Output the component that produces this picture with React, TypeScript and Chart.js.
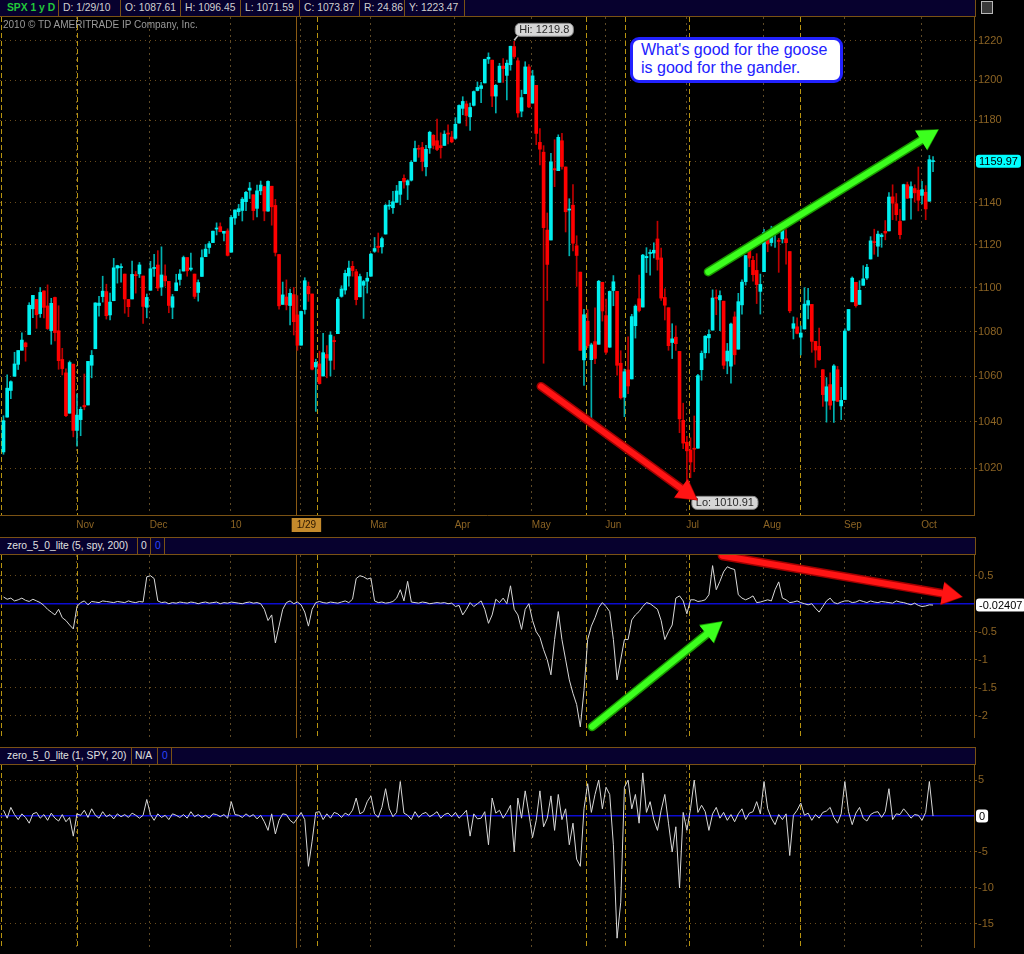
import React, { useEffect, useRef } from 'react';
import { Chart, registerables } from 'chart.js';

Chart.register(...registerables);

// ---------- SPX daily candles [open, high, low, close], Oct 5 2009 .. Oct 6 2010 ----------
const OCT_09 = [
  [1026.9, 1042.6, 1025.9, 1040.46], [1042.0, 1060.6, 1042.0, 1054.72], [1053.7, 1058.0, 1050.1, 1057.58],
  [1060.0, 1070.7, 1060.0, 1065.48], [1065.3, 1071.5, 1063.0, 1071.49], [1071.6, 1079.5, 1071.6, 1076.19],
  [1074.9, 1075.3, 1066.7, 1073.19], [1078.7, 1093.2, 1078.7, 1092.02], [1090.4, 1096.6, 1086.4, 1096.56],
  [1094.7, 1094.7, 1081.5, 1087.68], [1088.2, 1100.2, 1086.5, 1097.91], [1098.6, 1098.6, 1086.2, 1091.06],
  [1091.7, 1101.4, 1081.0, 1081.40], [1080.5, 1095.2, 1074.3, 1092.91], [1095.6, 1095.8, 1075.8, 1079.60],
  [1080.4, 1091.8, 1063.1, 1066.95], [1067.5, 1072.5, 1060.6, 1063.41], [1061.5, 1063.3, 1042.2, 1042.63],
  [1043.7, 1066.8, 1043.7, 1066.11], [1065.4, 1065.4, 1033.4, 1036.19],
];
const NOV_09 = [
  [1036.2, 1052.2, 1029.4, 1042.88], [1040.9, 1046.4, 1033.9, 1045.41], [1047.1, 1061.0, 1045.2, 1046.50],
  [1047.3, 1066.7, 1047.3, 1066.63], [1064.9, 1071.5, 1059.3, 1069.30], [1072.3, 1093.2, 1072.3, 1093.08],
  [1091.9, 1096.1, 1087.0, 1093.01], [1096.0, 1105.4, 1093.5, 1098.51], [1098.3, 1101.7, 1085.7, 1087.24],
  [1087.6, 1097.6, 1085.3, 1093.48], [1094.1, 1113.7, 1094.1, 1109.30], [1109.2, 1110.5, 1102.2, 1110.32],
  [1109.4, 1111.1, 1102.7, 1109.80], [1106.4, 1106.4, 1088.4, 1094.90], [1094.7, 1094.7, 1086.8, 1091.38],
  [1094.9, 1112.4, 1094.9, 1106.24], [1105.8, 1107.6, 1097.6, 1105.65], [1106.5, 1111.8, 1104.8, 1110.63],
  [1105.5, 1105.5, 1083.7, 1091.49], [1091.1, 1097.2, 1086.3, 1095.63],
];
const DEC_09 = [
  [1098.9, 1112.3, 1098.9, 1108.86], [1109.0, 1115.6, 1105.3, 1109.24], [1110.6, 1117.3, 1098.7, 1099.92],
  [1100.4, 1119.1, 1096.5, 1105.98], [1105.5, 1110.7, 1100.8, 1103.25], [1103.0, 1103.0, 1088.6, 1091.94],
  [1091.1, 1097.0, 1085.9, 1095.95], [1098.7, 1106.3, 1098.7, 1102.35], [1103.9, 1108.5, 1101.3, 1106.41],
  [1107.8, 1114.8, 1107.8, 1114.11], [1114.1, 1114.1, 1105.4, 1107.93], [1108.6, 1116.2, 1107.9, 1109.18],
  [1106.4, 1106.4, 1095.1, 1096.08], [1097.9, 1103.7, 1093.9, 1102.47], [1105.3, 1117.7, 1105.3, 1114.05],
  [1114.5, 1120.3, 1114.5, 1118.02], [1118.8, 1121.6, 1116.0, 1120.59], [1121.1, 1126.5, 1121.1, 1126.48],
  [1127.5, 1130.4, 1124.7, 1127.78], [1128.6, 1130.4, 1126.2, 1126.20], [1125.5, 1126.4, 1121.9, 1126.42],
  [1126.6, 1127.6, 1114.8, 1115.10],
];
const JAN_10 = [
  [1116.6, 1133.9, 1116.6, 1132.99], [1132.7, 1136.6, 1129.7, 1136.52], [1135.7, 1139.2, 1133.9, 1137.14],
  [1136.3, 1142.5, 1131.3, 1141.69], [1140.5, 1145.4, 1136.2, 1144.98], [1146.0, 1149.7, 1142.0, 1146.98],
  [1143.8, 1143.8, 1131.8, 1136.22], [1137.3, 1148.4, 1133.2, 1145.68], [1145.7, 1150.4, 1143.8, 1148.46],
  [1147.7, 1147.8, 1131.4, 1136.03], [1136.0, 1150.5, 1135.8, 1150.23], [1147.9, 1147.9, 1129.3, 1138.04],
  [1138.7, 1141.6, 1114.8, 1116.48], [1115.5, 1115.5, 1090.2, 1091.76], [1092.4, 1102.7, 1092.4, 1096.78],
  [1095.8, 1103.7, 1089.9, 1092.17], [1091.9, 1099.5, 1083.1, 1097.50], [1096.9, 1100.2, 1078.5, 1084.53],
  [1087.61, 1096.45, 1071.59, 1073.87],
];
const FEB_10 = [
  [1073.9, 1089.4, 1073.9, 1089.19], [1090.1, 1104.7, 1088.0, 1103.32], [1100.7, 1102.7, 1093.8, 1097.28],
  [1097.2, 1097.2, 1062.8, 1063.11], [1064.1, 1067.6, 1044.5, 1066.19], [1065.5, 1071.2, 1056.5, 1056.74],
  [1060.1, 1079.3, 1060.1, 1070.52], [1069.7, 1073.7, 1059.3, 1068.13], [1067.1, 1080.0, 1060.1, 1078.47],
  [1076.0, 1077.8, 1063.0, 1075.51], [1079.1, 1095.7, 1079.1, 1094.87], [1096.1, 1101.0, 1095.7, 1099.51],
  [1099.0, 1108.2, 1097.1, 1106.75], [1105.5, 1112.4, 1100.8, 1109.17], [1110.0, 1112.3, 1105.4, 1108.01],
  [1107.5, 1108.6, 1092.2, 1094.60], [1095.9, 1106.4, 1095.9, 1105.24], [1101.2, 1103.5, 1086.0, 1102.94],
  [1103.1, 1107.2, 1097.6, 1104.49],
];
const MAR_10 = [
  [1105.4, 1116.1, 1105.4, 1115.71], [1117.0, 1123.5, 1116.5, 1118.31], [1119.4, 1125.6, 1116.6, 1118.79],
  [1119.1, 1123.7, 1116.1, 1122.97], [1125.1, 1139.4, 1125.1, 1138.70], [1138.4, 1141.1, 1136.8, 1138.50],
  [1137.6, 1145.4, 1134.9, 1140.45], [1140.2, 1148.3, 1140.1, 1145.61], [1144.0, 1150.2, 1139.0, 1150.24],
  [1151.7, 1153.4, 1147.0, 1149.99], [1148.5, 1151.0, 1141.5, 1150.51], [1150.8, 1160.3, 1150.4, 1159.46],
  [1159.9, 1169.8, 1159.9, 1166.21], [1166.1, 1167.8, 1161.9, 1165.83], [1166.7, 1169.2, 1155.3, 1159.90],
  [1157.3, 1167.8, 1152.9, 1165.81], [1166.5, 1174.7, 1163.8, 1174.17], [1172.7, 1173.0, 1166.0, 1167.72],
  [1170.0, 1180.7, 1165.1, 1165.73], [1167.6, 1173.9, 1161.5, 1166.59], [1167.7, 1174.9, 1167.7, 1173.22],
  [1173.8, 1177.8, 1168.5, 1173.27], [1171.8, 1174.6, 1169.0, 1169.43],
];
const APR_10 = [
  [1171.2, 1181.4, 1170.7, 1178.10], [1178.7, 1187.7, 1178.7, 1187.44], [1186.0, 1191.8, 1182.8, 1189.44],
  [1188.2, 1189.6, 1177.3, 1182.45], [1181.8, 1188.6, 1175.1, 1186.44], [1187.5, 1194.7, 1187.2, 1194.37],
  [1194.9, 1199.2, 1194.7, 1196.48], [1195.9, 1199.0, 1188.8, 1197.30], [1198.7, 1210.7, 1198.7, 1210.65],
  [1210.8, 1213.9, 1208.5, 1211.67], [1210.2, 1210.2, 1186.8, 1192.13], [1192.1, 1197.9, 1183.7, 1197.52],
  [1199.0, 1208.6, 1199.0, 1207.17], [1207.2, 1211.0, 1198.9, 1205.94], [1202.5, 1210.3, 1190.2, 1208.67],
  [1207.9, 1217.3, 1205.1, 1217.28], [1217.1, 1219.8, 1211.1, 1212.05], [1209.9, 1211.4, 1181.6, 1183.71],
  [1184.6, 1195.1, 1181.8, 1191.36], [1193.3, 1209.4, 1193.3, 1206.78], [1206.8, 1208.0, 1186.3, 1186.69],
];
const MAY_10 = [
  [1188.6, 1205.1, 1188.6, 1202.26], [1197.5, 1197.5, 1168.1, 1173.60], [1169.2, 1176.0, 1158.2, 1165.87],
  [1164.4, 1167.6, 1065.8, 1128.15], [1127.0, 1135.1, 1094.2, 1110.88], [1122.3, 1163.9, 1122.3, 1159.73],
  [1156.4, 1170.5, 1147.7, 1155.79], [1155.4, 1172.9, 1155.4, 1171.67], [1170.0, 1173.6, 1156.1, 1157.44],
  [1157.2, 1157.2, 1126.1, 1135.68], [1136.5, 1141.9, 1114.9, 1136.94], [1138.8, 1148.7, 1117.2, 1120.80],
  [1119.6, 1124.3, 1100.7, 1115.05], [1107.3, 1107.3, 1071.6, 1071.59], [1067.3, 1090.2, 1055.9, 1087.69],
  [1084.8, 1090.0, 1072.7, 1073.65], [1067.4, 1074.8, 1040.8, 1074.03], [1075.5, 1090.8, 1065.6, 1067.95],
  [1074.3, 1103.5, 1074.3, 1103.06], [1102.6, 1102.6, 1084.8, 1089.41],
];
const JUN_10 = [
  [1087.3, 1094.8, 1069.9, 1070.71], [1073.0, 1098.6, 1072.9, 1098.38], [1098.8, 1105.7, 1091.8, 1102.83],
  [1098.4, 1098.4, 1060.5, 1064.88], [1065.8, 1071.4, 1049.9, 1050.47], [1050.8, 1063.2, 1042.2, 1062.00],
  [1062.8, 1077.7, 1052.3, 1055.69], [1058.8, 1087.9, 1058.8, 1086.84], [1082.7, 1092.2, 1077.1, 1091.60],
  [1095.0, 1105.9, 1089.0, 1089.63], [1091.2, 1115.6, 1091.2, 1115.23], [1114.0, 1118.7, 1107.1, 1114.61],
  [1116.0, 1117.7, 1105.9, 1116.04], [1116.2, 1121.0, 1113.9, 1117.51], [1122.8, 1131.2, 1108.2, 1113.20],
  [1113.9, 1118.5, 1094.2, 1095.31], [1095.6, 1099.6, 1085.3, 1092.04], [1090.9, 1090.9, 1071.6, 1073.69],
  [1075.1, 1083.6, 1067.9, 1076.76], [1077.5, 1082.6, 1071.5, 1074.57], [1071.1, 1071.1, 1035.2, 1041.24],
  [1040.6, 1048.1, 1028.3, 1030.71],
];
const JUL_10 = [
  [1031.1, 1033.6, 1010.91, 1027.37], [1027.7, 1033.0, 1015.9, 1022.58], [1028.1, 1042.5, 1018.4, 1028.06],
  [1028.5, 1060.9, 1028.5, 1060.27], [1062.9, 1071.3, 1058.2, 1070.25], [1070.5, 1078.2, 1068.1, 1077.96],
  [1077.2, 1080.8, 1070.4, 1078.75], [1080.7, 1099.1, 1080.7, 1095.34], [1095.6, 1099.1, 1087.7, 1095.17],
  [1094.5, 1098.7, 1080.5, 1096.48], [1093.9, 1093.9, 1063.3, 1064.88], [1066.8, 1074.7, 1061.1, 1071.25],
  [1064.5, 1083.9, 1056.9, 1083.48], [1086.7, 1089.0, 1065.3, 1069.59], [1072.1, 1097.5, 1072.1, 1093.67],
  [1092.2, 1103.7, 1087.9, 1102.66], [1102.9, 1115.0, 1101.3, 1115.01], [1117.4, 1121.0, 1109.8, 1113.84],
  [1112.8, 1114.7, 1103.1, 1106.13], [1108.1, 1115.9, 1092.8, 1101.53], [1098.4, 1106.4, 1088.0, 1101.60],
];
const AUG_10 = [
  [1107.5, 1127.3, 1107.5, 1125.86], [1125.3, 1125.4, 1116.8, 1120.46], [1121.1, 1128.8, 1119.5, 1127.24],
  [1125.8, 1126.6, 1118.8, 1125.81], [1122.1, 1123.1, 1107.2, 1121.64], [1122.8, 1129.2, 1120.9, 1127.79],
  [1122.9, 1127.2, 1111.0, 1121.06], [1116.9, 1116.9, 1088.6, 1089.47], [1081.5, 1086.7, 1076.7, 1083.61],
  [1082.2, 1086.3, 1079.0, 1079.25], [1077.5, 1082.6, 1069.5, 1079.38], [1081.2, 1100.1, 1081.2, 1092.54],
  [1092.1, 1099.8, 1085.8, 1094.16], [1092.4, 1092.4, 1070.7, 1075.63], [1075.6, 1075.6, 1063.9, 1071.69],
  [1073.4, 1081.6, 1067.1, 1067.36], [1062.9, 1063.0, 1046.7, 1051.87], [1049.0, 1059.4, 1039.8, 1055.33],
  [1056.3, 1061.5, 1045.4, 1047.22], [1049.3, 1065.2, 1039.7, 1064.59], [1062.9, 1064.4, 1048.8, 1048.92],
  [1046.9, 1055.1, 1040.9, 1049.33],
];
const SEP_10 = [
  [1049.7, 1081.3, 1049.7, 1080.29], [1080.7, 1090.1, 1080.4, 1090.10], [1093.6, 1105.1, 1093.6, 1104.51],
  [1102.6, 1102.6, 1091.2, 1091.84], [1092.4, 1103.3, 1092.4, 1098.87], [1101.2, 1110.3, 1101.2, 1104.18],
  [1104.6, 1110.9, 1103.9, 1109.55], [1113.4, 1123.9, 1113.4, 1121.90], [1121.2, 1127.4, 1115.6, 1121.10],
  [1119.4, 1126.5, 1114.6, 1125.07], [1123.9, 1125.4, 1118.9, 1124.66], [1126.4, 1131.5, 1122.4, 1125.59],
  [1126.6, 1144.9, 1126.6, 1142.71], [1142.8, 1148.6, 1131.9, 1139.78], [1139.5, 1144.4, 1131.6, 1134.28],
  [1131.1, 1136.8, 1122.8, 1124.83], [1131.7, 1148.9, 1131.7, 1148.67], [1148.6, 1149.9, 1142.0, 1142.16],
  [1142.3, 1150.0, 1132.1, 1147.70], [1146.8, 1148.6, 1140.3, 1144.73], [1146.0, 1157.2, 1136.1, 1141.20],
];
const OCT_10 = [
  [1143.5, 1150.3, 1139.4, 1146.24], [1145.0, 1148.2, 1131.9, 1137.03], [1140.7, 1162.8, 1140.7, 1160.75],
  [1159.8, 1162.3, 1154.9, 1159.97],
];
const SPX = [
  ...OCT_09, ...NOV_09, ...DEC_09, ...JAN_10, ...FEB_10, ...MAR_10, ...APR_10,
  ...MAY_10, ...JUN_10, ...JUL_10, ...AUG_10, ...SEP_10, ...OCT_10,
];

// ---------- zero_5_0_lite (5, spy, 200) ----------
const IND1 = [
  0.12, 0.08, 0.1, 0.05, 0.07, 0.1, 0.06, 0.04, 0.08, 0.05,
  0.02, -0.03, -0.1, -0.15, -0.2, -0.1, -0.25, -0.3, -0.38, -0.45,
  -0.05, 0.02, 0.05, -0.02, 0.04, 0.03, 0.02, 0.05, 0.04, 0.03,
  0.02, 0.04, 0.03, 0.02, 0.05, 0.03, 0.02, 0.04, 0.03, 0.48,
  0.5, 0.45, 0.05, 0.02, 0.03, 0.0, 0.02, 0.01, 0.03, 0.02,
  0.01, 0.03, 0.02, 0.0, 0.02, 0.03, 0.01, 0.02, 0.03, 0.0,
  0.02, 0.01, 0.03, 0.02, 0.01, 0.0, 0.02, 0.03, 0.01, 0.02,
  0.0, -0.1, -0.3, -0.2, -0.7, -0.4, -0.1, 0.02, 0.05, 0.0,
  0.03, -0.02, -0.15, -0.4, -0.1, 0.02, 0.04, 0.02, 0.01, 0.03,
  0.02, 0.01, 0.03, 0.05, 0.02, 0.08, 0.45, 0.5, 0.48, 0.44,
  0.46, 0.05, 0.02, 0.03, 0.01, 0.02, 0.04, 0.1, 0.25, 0.05,
  0.4, 0.03, 0.02, 0.01, 0.03, 0.02, 0.0, 0.01, 0.02, 0.01,
  0.02, 0.0, 0.01, -0.05, -0.03, -0.2, -0.1, 0.02, -0.05, 0.0,
  0.05, -0.1, -0.35, -0.2, 0.08, 0.02, 0.1, 0.0, 0.32, -0.1,
  -0.2, -0.46, -0.1, 0.0, -0.3, -0.5, -0.6, -0.82, -1.0, -1.27,
  -0.64, -0.14, -0.64, -1.0, -1.36, -1.6, -1.8, -2.2, -1.55, -0.64,
  -0.4, -0.25, -0.07, 0.02, -0.05, -0.14, -0.64, -1.36, -1.0, -0.64,
  -0.64, -0.29, -0.2, -0.14, -0.05, 0.02, 0.0, -0.05, -0.1, -0.3,
  -0.64, -0.5, -0.38, 0.1, 0.14, 0.05, -0.18, 0.07, 0.07, 0.04,
  0.05, 0.07, 0.16, 0.68, 0.25, 0.4, 0.57, 0.66, 0.63, 0.61,
  0.16, 0.1, 0.07, 0.1, 0.14, 0.02, 0.03, 0.05, 0.07, 0.05,
  0.25, 0.39, 0.1, 0.07, 0.02, 0.03, 0.05, 0.02, 0.0, -0.02,
  0.0, -0.08, -0.15, -0.05, 0.05, 0.1, 0.02, 0.0, 0.03, 0.05,
  0.05, 0.02, 0.03, 0.06, 0.04, 0.02, 0.05, 0.03, 0.02, 0.04,
  0.03, 0.02, 0.01, 0.05, 0.03, 0.02, 0.0, -0.02, 0.01, -0.03,
  -0.05, -0.04, -0.02, -0.02407,
];

// ---------- zero_5_0_lite (1, SPY, 20) ----------
const IND2 = [
  0.8, -0.3, 1.2, 0.2, -0.5, 0.3, -0.2, -1.0, 0.3, 0.5,
  -0.3, 0.2, -0.6, 0.4, -0.3, -0.7, 0.2, -0.8, -0.2, -2.8,
  0.3, 0.1, 0.8, -0.2, 1.0, 0.1, -0.3, 0.6, -0.1, 0.2,
  -0.4, 0.3, -0.1, 0.2, -0.2, 0.4, 0.1, -0.3, 0.1, 2.3,
  0.2, -0.6, 0.3, -0.2, 0.1, -0.5, 0.3, 0.1, -0.2, 0.2,
  -0.3, 0.6, -0.1, 0.2, -0.2, 0.1, -0.3, 0.3, 0.2, -0.1,
  0.2, -0.3, 2.0, 0.2, 0.1, -0.2, 0.3, -0.1, 0.2, -0.4,
  0.1, -0.8, -2.0, 0.3, -2.5, -0.6, 0.3, 0.2, -0.6, -1.0,
  -0.3, 0.5, -0.5, -7.0, -3.5, 0.5, 0.6, -0.5, 0.3, -0.3,
  0.5, 0.3, -0.2, 0.4, 0.1, 0.8, 2.5, 0.3, 0.6, 2.0,
  2.8, 0.3, -0.2, 1.2, 3.8, 1.0, -0.1, 0.5, 4.8, 0.4,
  0.1, -0.5, 0.6, -0.2, 0.3, 0.5, -0.1, 0.2, 0.6, -0.3,
  0.2, 0.4, -0.1, 0.5, -0.3, 0.2, 0.8, -2.8, 0.3, -0.4,
  -0.3, 0.6, -4.0, 2.5, 0.4, 0.8, -0.3, 0.5, 1.5, -5.0,
  2.5, -0.3, 3.5, 0.3, -3.0, -0.6, 3.5, -1.5, -0.3, 2.8,
  -2.0, 3.0, -0.5, 1.0, -4.0, -1.0, -6.0, -7.0, 1.0, 4.5,
  0.5, 3.0, 5.0, 1.0, 4.0, 3.0, -4.0, -17.0, -12.0, 4.0,
  5.0, 1.0, 3.0, -1.0, 6.0, 0.5, 2.0, -0.5, -2.0, 0.8,
  3.0, -1.0, -5.0, -1.5, -10.0, 0.5, -2.0, 1.0, 5.0, 0.5,
  1.5, 0.6, -2.0, 0.3, 1.2, -0.3, 0.5, -0.6, 0.2, -0.8,
  0.3, 1.0, -0.5, 0.4, 0.6, 2.0, 0.3, 4.8, 1.0, -0.3,
  -1.2, 0.2, -0.5, 0.3, -5.5, 0.1, 0.8, 1.8, 0.1, 0.4,
  -0.6, 0.2, -0.3, 0.5, 0.7, 1.2, -0.2, -1.0, 0.3, 4.8,
  0.6, -1.2, 0.4, 1.2, -0.3, -0.7, 0.2, 0.5, 0.6, -0.2,
  0.6, 3.8, -0.5, 0.3, 0.2, 1.0, 0.4, -0.3, 0.2, 0.1,
  -0.6, 0.5, 4.8, 0.0,
];

// ---------- axes / ticks ----------
const MAIN_TICKS = [1020, 1040, 1060, 1080, 1100, 1120, 1140, 1160, 1180, 1200, 1220];
const IND1_TICKS = [0.5, 0, -0.5, -1, -1.5, -2];
const IND2_TICKS = [5, 0, -5, -10, -15];
const MONTH_POS = [19.8, 39.8, 61.8, 80.8, 99.8, 122.8, 143.8, 163.8, 185.8, 206.8, 228.8, 249.8];
const MONTH_LABELS = ['Nov', 'Dec', '10', '', 'Mar', 'Apr', 'May', 'Jun', 'Jul', 'Aug', 'Sep', 'Oct'];
const EVENT_POS = [-0.5, 20.1, 85.5, 158.8, 169.2, 186.6, 217.0];
const CURSOR_POS = 79.8;
const CURSOR_LABEL = '1/29';

// annotation arrows, in data units [index, value]
const MAIN_ARROWS = [
  { from: [146.3, 1055.5], to: [188.8, 1006.4], color: '#ff1414', edge: '#a00000' },
  { from: [191.8, 1107.4], to: [254.4, 1175.4], color: '#3cff1e', edge: '#1a9a00' },
];
const IND1_ARROWS = [
  { from: [195.6, 0.857], to: [260.9, 0.125], color: '#ff1414', edge: '#a00000' },
  { from: [160.2, -2.196], to: [195.6, -0.32], color: '#3cff1e', edge: '#1a9a00' },
];

// ---------- styling ----------
const FONT = "'Liberation Sans', Arial, sans-serif";
const NAVY = '#07012e';
const BROWN = '#7a5214';
const AXIS_TEXT = '#8c6424';
const GRID_H = '#6a4c1c';
const MONTH_COLOR = '#5e4a26';
const EVENT_COLOR = '#b89410';
const CURSOR_COLOR = '#8a5a14';
const UP = '#00f0f0';
const UP_WICK = '#00b0b0';
const DOWN = '#ff0000';
const DOWN_WICK = '#c00000';
const IND_LINE = '#d8d8d8';
const ZERO_BLUE = '#0c0cd0';

const X_MIN = -0.95;
const X_MAX = 264.15;

type VLine = { v: number; label: string; color: string; dash: number[] };
const VLINES: VLine[] = [
  ...MONTH_POS.map((v, i) => ({ v, label: MONTH_LABELS[i], color: MONTH_COLOR, dash: [2, 4] })),
  ...EVENT_POS.map((v) => ({ v, label: '', color: EVENT_COLOR, dash: [5, 3] })),
  { v: CURSOR_POS, label: CURSOR_LABEL, color: CURSOR_COLOR, dash: [] as number[] },
].sort((a, b) => a.v - b.v);

Chart.defaults.font.family = FONT;
Chart.defaults.font.size = 11;

function xScale(showLabels: boolean, h: number) {
  return {
    type: 'linear',
    position: 'bottom',
    min: X_MIN,
    max: X_MAX,
    offset: false,
    afterBuildTicks: (s: any) => {
      s.ticks = VLINES.map((l) => ({ value: l.v }));
    },
    afterFit: (s: any) => {
      s.height = h;
      s.paddingLeft = 0;
      s.paddingRight = 0;
    },
    grid: {
      offset: false,
      drawTicks: false,
      lineWidth: 1,
      color: (c: any) => (c.index !== undefined && VLINES[c.index] ? VLINES[c.index].color : 'transparent'),
    },
    border: {
      display: true,
      color: BROWN,
      width: 1,
      dash: (c: any) => (c.index !== undefined && VLINES[c.index] ? VLINES[c.index].dash : []),
    },
    ticks: {
      display: showLabels,
      autoSkip: false,
      maxRotation: 0,
      minRotation: 0,
      align: 'start',
      padding: 4,
      font: { size: 10 },
      color: (c: any) => (VLINES[c.index] && VLINES[c.index].label === CURSOR_LABEL ? '#2a1600' : AXIS_TEXT),
      showLabelBackdrop: (c: any) => !!(VLINES[c.index] && VLINES[c.index].label === CURSOR_LABEL),
      backdropColor: '#c48a2c',
      backdropPadding: { top: 1, bottom: 1, left: 5, right: 5 },
      callback: (_v: any, i: number) => (VLINES[i] ? VLINES[i].label : ''),
    },
  };
}

function yIndScale(min: number, max: number, ticks: number[]) {
  const isZero = (c: any) => c.tick && c.tick.value === 0;
  return {
    type: 'linear',
    position: 'right',
    min,
    max,
    afterBuildTicks: (s: any) => {
      s.ticks = ticks.map((v) => ({ value: v }));
    },
    afterFit: (s: any) => {
      s.width = 50;
      s.paddingTop = 0;
      s.paddingBottom = 0;
    },
    grid: {
      color: (c: any) => (isZero(c) ? ZERO_BLUE : GRID_H),
      lineWidth: (c: any) => (isZero(c) ? 1.6 : 1),
      drawTicks: true,
      tickLength: 3,
      tickColor: (c: any) => (isZero(c) ? 'transparent' : BROWN),
    },
    border: { color: BROWN, width: 1, dash: (c: any) => (isZero(c) || !c.tick ? [] : [1, 4]) },
    ticks: {
      color: AXIS_TEXT,
      padding: 1,
      font: { size: 11 },
      callback: (v: any) => (v === 0 ? '' : String(v)),
    },
  };
}

function roundRect(ctx: CanvasRenderingContext2D, x: number, y: number, w: number, h: number, r: number) {
  ctx.beginPath();
  ctx.moveTo(x + r, y);
  ctx.arcTo(x + w, y, x + w, y + h, r);
  ctx.arcTo(x + w, y + h, x, y + h, r);
  ctx.arcTo(x, y + h, x, y, r);
  ctx.arcTo(x, y, x + w, y, r);
  ctx.closePath();
}

function drawArrow(chart: any, a: any) {
  const ctx: CanvasRenderingContext2D = chart.ctx;
  const xs = chart.scales.x;
  const ys = chart.scales.y;
  const x1 = xs.getPixelForValue(a.from[0]);
  const y1 = ys.getPixelForValue(a.from[1]);
  const x2 = xs.getPixelForValue(a.to[0]);
  const y2 = ys.getPixelForValue(a.to[1]);
  const ang = Math.atan2(y2 - y1, x2 - x1);
  const head = 20;
  const half = 11;
  const bx = x2 - head * Math.cos(ang);
  const by = y2 - head * Math.sin(ang);
  const nx = Math.cos(ang + Math.PI / 2);
  const ny = Math.sin(ang + Math.PI / 2);
  ctx.save();
  ctx.lineCap = 'round';
  ctx.lineJoin = 'round';
  [[a.edge, 9], [a.color, 6]].forEach(([col, w]: any) => {
    ctx.strokeStyle = col;
    ctx.fillStyle = col;
    ctx.lineWidth = w;
    ctx.beginPath();
    ctx.moveTo(x1, y1);
    ctx.lineTo(bx + 2 * Math.cos(ang), by + 2 * Math.sin(ang));
    ctx.stroke();
    const k = w === 9 ? 1 : 0;
    ctx.beginPath();
    ctx.moveTo(x2 + k * Math.cos(ang), y2 + k * Math.sin(ang));
    ctx.lineTo(bx + (half + k) * nx, by + (half + k) * ny);
    ctx.lineTo(bx - (half + k) * nx, by - (half + k) * ny);
    ctx.closePath();
    ctx.fill();
  });
  ctx.restore();
}

function drawTag(chart: any, value: number, text: string, bg: string, fg: string) {
  const ctx: CanvasRenderingContext2D = chart.ctx;
  const y = chart.scales.y.getPixelForValue(value);
  const x = chart.chartArea.right + 2;
  ctx.save();
  ctx.font = `11px ${FONT}`;
  const w = ctx.measureText(text).width + 6;
  const h = 13;
  roundRect(ctx, x, y - h / 2, w, h, 3);
  ctx.fillStyle = bg;
  ctx.fill();
  ctx.fillStyle = fg;
  ctx.textBaseline = 'middle';
  ctx.fillText(text, x + 3, y + 0.5);
  ctx.restore();
}

function drawBubble(ctx: CanvasRenderingContext2D, text: string, bx: number, by: number, tx: number, ty: number, ax: number, ay: number) {
  ctx.save();
  ctx.font = `11px ${FONT}`;
  const w = ctx.measureText(text).width + 8;
  const h = 13;
  ctx.strokeStyle = '#c8c8c8';
  ctx.lineWidth = 1.5;
  ctx.beginPath();
  ctx.moveTo(tx, ty);
  ctx.lineTo(ax, ay);
  ctx.stroke();
  roundRect(ctx, bx, by, w, h, 5);
  ctx.fillStyle = '#d6d6d6';
  ctx.fill();
  ctx.strokeStyle = '#8a8a8a';
  ctx.lineWidth = 1;
  ctx.stroke();
  ctx.fillStyle = '#2a2a2a';
  ctx.textBaseline = 'middle';
  ctx.fillText(text, bx + 4, by + h / 2 + 0.5);
  ctx.restore();
}

const mainOverlay = {
  id: 'mainOverlay',
  afterDraw(chart: any) {
    const ctx: CanvasRenderingContext2D = chart.ctx;
    const xs = chart.scales.x;
    const ys = chart.scales.y;
    let hi = 0;
    let lo = 0;
    SPX.forEach((d, i) => {
      if (d[1] > SPX[hi][1]) hi = i;
      if (d[2] < SPX[lo][2]) lo = i;
    });
    const hx = xs.getPixelForValue(hi);
    const hy = ys.getPixelForValue(SPX[hi][1]);
    drawBubble(ctx, `Hi: ${SPX[hi][1]}`, hx + 1, hy - 18, hx + 4, hy - 6, hx, hy - 1);
    const lx = xs.getPixelForValue(lo);
    const ly = ys.getPixelForValue(SPX[lo][2]);
    drawBubble(ctx, `Lo: ${SPX[lo][2]}`, lx + 5, ly + 7, lx + 7, ly + 8, lx + 1, ly + 1);
    MAIN_ARROWS.forEach((a) => drawArrow(chart, a));
    const last = SPX[SPX.length - 1][3];
    drawTag(chart, last, last.toFixed(2), '#00ffff', '#000000');
  },
};

function makeIndOverlay(values: number[], arrows: any[], text: string) {
  return {
    id: 'indOverlay',
    afterDraw(chart: any) {
      arrows.forEach((a) => drawArrow(chart, a));
      drawTag(chart, values[values.length - 1], text, '#ffffff', '#000000');
    },
  };
}

function mainConfig(): any {
  const up = (d: number[]) => d[3] >= d[0];
  return {
    type: 'bar',
    data: {
      datasets: [
        {
          label: 'wick',
          data: SPX.map((d, i) => ({ x: i, y: [d[2], d[1]] })),
          backgroundColor: SPX.map((d) => (up(d) ? UP_WICK : DOWN_WICK)),
          barThickness: 1,
          grouped: false,
          order: 2,
        },
        {
          label: 'body',
          data: SPX.map((d, i) => ({ x: i, y: [Math.min(d[0], d[3]), Math.max(d[0], d[3])] })),
          backgroundColor: SPX.map((d) => (up(d) ? UP : DOWN)),
          barThickness: 3,
          minBarLength: 1,
          grouped: false,
          order: 1,
        },
      ],
    },
    options: {
      responsive: false,
      animation: false,
      events: [],
      devicePixelRatio: 1,
      layout: { padding: 0 },
      plugins: { legend: { display: false }, tooltip: { enabled: false } },
      scales: {
        x: xScale(true, 22),
        y: {
          type: 'logarithmic',
          position: 'right',
          min: 1000.1,
          max: 1232.3,
          afterBuildTicks: (s: any) => {
            s.ticks = MAIN_TICKS.map((v) => ({ value: v }));
          },
          afterFit: (s: any) => {
            s.width = 50;
            s.paddingTop = 0;
            s.paddingBottom = 0;
          },
          grid: { color: GRID_H, lineWidth: 1, drawTicks: true, tickLength: 3, tickColor: BROWN },
          border: { color: BROWN, width: 1, dash: (c: any) => (c.tick ? [1, 4] : []) },
          ticks: { color: AXIS_TEXT, padding: 1, font: { size: 11 }, callback: (v: any) => String(v) },
        },
      },
    },
    plugins: [mainOverlay],
  };
}

function indConfig(values: number[], min: number, max: number, ticks: number[], arrows: any[], tag: string): any {
  return {
    type: 'line',
    data: {
      datasets: [
        {
          data: values.map((v, i) => ({ x: i, y: v })),
          borderColor: IND_LINE,
          borderWidth: 1,
          pointRadius: 0,
          tension: 0,
          fill: false,
        },
      ],
    },
    options: {
      responsive: false,
      animation: false,
      events: [],
      devicePixelRatio: 1,
      layout: { padding: 0 },
      plugins: { legend: { display: false }, tooltip: { enabled: false } },
      scales: { x: xScale(false, 0), y: yIndScale(min, max, ticks) },
    },
    plugins: [makeIndOverlay(values, arrows, tag)],
  };
}

function ChartBox({ top, height, build }: { top: number; height: number; build: () => any }) {
  const ref = useRef<HTMLCanvasElement>(null);
  useEffect(() => {
    const chart = new Chart(ref.current as HTMLCanvasElement, build());
    return () => chart.destroy();
  }, []);
  return (
    <canvas
      ref={ref}
      width={1024}
      height={height}
      style={{ position: 'absolute', left: 0, top, width: 1024, height }}
    />
  );
}

type Seg = { left: number; right: number; text: string; color: string; pad: number; bold?: boolean };

function HeaderBar({ top, height, segs, borderTop }: { top: number; height: number; segs: Seg[]; borderTop: boolean }) {
  return (
    <div
      style={{
        position: 'absolute',
        left: 0,
        top,
        width: 976,
        height,
        boxSizing: 'border-box',
        background: NAVY,
        borderBottom: `1px solid ${BROWN}`,
        borderTop: borderTop ? `1px solid ${BROWN}` : 'none',
        borderRight: `1px solid ${BROWN}`,
      }}
    >
      {segs.map((s, i) => (
        <div
          key={i}
          style={{
            position: 'absolute',
            left: s.left,
            top: 0,
            width: s.right - s.left,
            height: '100%',
            boxSizing: 'border-box',
            borderRight: `1px solid ${BROWN}`,
            paddingLeft: s.pad,
            color: s.color,
            fontFamily: FONT,
            fontSize: 10.3,
            fontWeight: s.bold ? 'bold' : 'normal',
            lineHeight: `${height - (borderTop ? 2 : 1)}px`,
            whiteSpace: 'nowrap',
            overflow: 'hidden',
          }}
        >
          {s.text}
        </div>
      ))}
    </div>
  );
}

const TXT = '#d0d0d0';
const HEAD_MAIN: Seg[] = [
  { left: 0, right: 59, text: 'SPX 1 y D', color: '#22c83a', pad: 7, bold: true },
  { left: 59, right: 121, text: 'D: 1/29/10', color: TXT, pad: 4 },
  { left: 121, right: 181, text: 'O: 1087.61', color: TXT, pad: 4 },
  { left: 181, right: 241, text: 'H: 1096.45', color: TXT, pad: 4 },
  { left: 241, right: 300, text: 'L: 1071.59', color: TXT, pad: 4 },
  { left: 300, right: 360, text: 'C: 1073.87', color: TXT, pad: 4 },
  { left: 360, right: 405, text: 'R: 24.86', color: TXT, pad: 4 },
  { left: 405, right: 465, text: 'Y: 1223.47', color: TXT, pad: 4 },
];
const HEAD_IND1: Seg[] = [
  { left: 0, right: 138, text: 'zero_5_0_lite (5, spy, 200)', color: '#e0e0e0', pad: 7 },
  { left: 138, right: 151, text: '0', color: '#e0e0e0', pad: 3 },
  { left: 151, right: 165, text: '0', color: '#2a46ff', pad: 4 },
];
const HEAD_IND2: Seg[] = [
  { left: 0, right: 132, text: 'zero_5_0_lite (1, SPY, 20)', color: '#e0e0e0', pad: 7 },
  { left: 132, right: 158, text: 'N/A', color: '#e0e0e0', pad: 3 },
  { left: 158, right: 172, text: '0', color: '#2a46ff', pad: 4 },
];

export default function App() {
  return (
    <div
      style={{
        position: 'fixed',
        left: 0,
        top: 0,
        width: 1024,
        height: 954,
        background: '#000000',
        overflow: 'hidden',
      }}
    >
      <HeaderBar top={0} height={17} segs={HEAD_MAIN} borderTop={false} />
      <div
        style={{
          position: 'absolute',
          left: 981,
          top: 1,
          width: 12,
          height: 13,
          boxSizing: 'border-box',
          border: '1px solid #b8b8b8',
          background: '#3a3a3a',
        }}
      />
      <ChartBox top={17} height={520} build={mainConfig} />
      <div
        style={{
          position: 'absolute',
          left: 3,
          top: 18,
          color: '#9a9a9a',
          fontFamily: FONT,
          fontSize: 10,
          lineHeight: '13px',
          whiteSpace: 'nowrap',
        }}
      >
        2010 © TD AMERITRADE IP Company, Inc.
      </div>
      <div
        style={{
          position: 'absolute',
          left: 630,
          top: 37,
          width: 213,
          height: 46,
          boxSizing: 'border-box',
          border: '3px solid #2222ff',
          borderRadius: 9,
          background: '#ffffff',
          color: '#2222ff',
          fontFamily: FONT,
          fontSize: 16,
          lineHeight: '18px',
          padding: '1px 0 0 8px',
          whiteSpace: 'nowrap',
        }}
      >
        What's good for the goose
        <br />
        is good for the gander.
      </div>
      <HeaderBar top={537} height={18} segs={HEAD_IND1} borderTop={true} />
      <ChartBox
        top={555}
        height={183}
        build={() => indConfig(IND1, -2.398, 0.87, IND1_TICKS, IND1_ARROWS, '-0.02407')}
      />
      <HeaderBar top={747} height={18} segs={HEAD_IND2} borderTop={true} />
      <ChartBox top={765} height={183} build={() => indConfig(IND2, -18.37, 7.1, IND2_TICKS, [], '0')} />
    </div>
  );
}
